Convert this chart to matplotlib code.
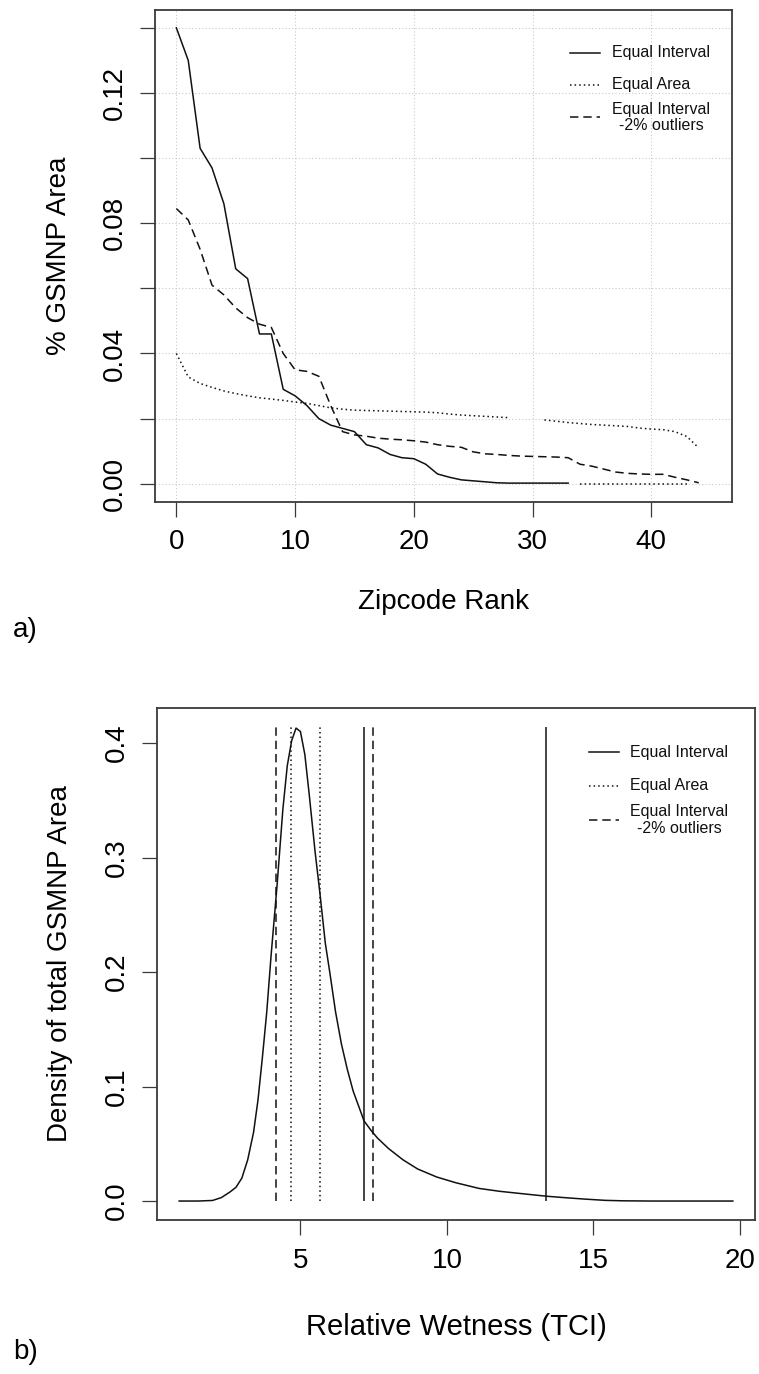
import numpy as np
import matplotlib.pyplot as plt

plt.rcParams['font.family'] = ['Liberation Sans', 'DejaVu Sans']

# panel a) - share of park area per zipcode, ranked
rank_eq_int = np.arange(34)
pct_eq_int = [0.140, 0.130, 0.103, 0.097, 0.086, 0.066, 0.063, 0.046, 0.046, 0.029,
              0.027, 0.024, 0.020, 0.018, 0.017, 0.016, 0.012, 0.011, 0.009, 0.008,
              0.0077, 0.006, 0.003, 0.002, 0.0012, 0.0009, 0.0006, 0.0003, 0.0002, 0.0002,
              0.0002, 0.0002, 0.0002, 0.0002]

rank_eq_area = np.arange(45)
pct_eq_area = [0.040, 0.0328, 0.0308, 0.0296, 0.0285, 0.0277, 0.0270, 0.0264, 0.0260, 0.0256,
               0.0251, 0.0247, 0.0240, 0.0233, 0.0229, 0.0226, 0.0225, 0.0224, 0.0223, 0.0222,
               0.0221, 0.0220, 0.0218, 0.0214, 0.0211, 0.0209, 0.0207, 0.0205, 0.0203, np.nan,
               np.nan, 0.0196, 0.0192, 0.0188, 0.0185, 0.0182, 0.0180, 0.0178, 0.0176, 0.0171,
               0.0168, 0.0166, 0.0160, 0.0145, 0.0110]

rank_outl = np.arange(45)
pct_outl = [0.0845, 0.081, 0.072, 0.061, 0.058, 0.054, 0.051, 0.049, 0.048, 0.040,
            0.035, 0.0345, 0.033, 0.024, 0.016, 0.015, 0.0146, 0.0140, 0.0137, 0.0135,
            0.0132, 0.0128, 0.0120, 0.0115, 0.0112, 0.0098, 0.0092, 0.0090, 0.0087, 0.0085,
            0.0084, 0.0083, 0.0082, 0.0080, 0.0060, 0.0054, 0.0045, 0.0036, 0.0032, 0.0030,
            0.0029, 0.0029, 0.0020, 0.0012, 0.0003]

# dotted stretch lying on zero at the far right
tail_rank = np.arange(34, 44)
tail_pct = [0.0, 0.0, 0.0, 0.0, 0.0, 0.0, 0.0, 0.0, 0.0, 0.0]

# panel b) - density of TCI with class breaks
tci = [0.86, 1.5, 2.0, 2.3, 2.6, 2.8, 3.0, 3.2, 3.4, 3.55,
       3.7, 3.85, 4.0, 4.2, 4.4, 4.55, 4.7, 4.85, 5.0, 5.15,
       5.3, 5.5, 5.66, 5.85, 6.0, 6.2, 6.4, 6.6, 6.8, 7.0,
       7.17, 7.4, 7.63, 8.0, 8.5, 9.0, 9.65, 10.3, 11.1, 11.8,
       12.5, 13.4, 14.0, 14.7, 15.4, 16.0, 17.0, 19.76]
density = [0.0, 0.0, 0.0005, 0.003, 0.008, 0.012, 0.02, 0.036, 0.06, 0.088,
           0.125, 0.165, 0.215, 0.275, 0.342, 0.38, 0.402, 0.413, 0.41, 0.39,
           0.355, 0.305, 0.27, 0.225, 0.2, 0.165, 0.137, 0.115, 0.096, 0.082,
           0.07, 0.062, 0.055, 0.046, 0.036, 0.028, 0.021, 0.016, 0.011, 0.0085,
           0.0066, 0.0042, 0.003, 0.0017, 0.0006, 0.0002, 0.0, 0.0]

breaks_eq_int = [7.16, 13.38]
breaks_eq_area = [4.68, 5.68]
breaks_outl = [4.17, 7.49]
break_top = 0.414

labels = ['Equal Interval', 'Equal Area', 'Equal Interval\n-2% outliers']

SOLID = '-'
DOTTED = (0, (1, 2))
DASHED = (0, (5.5, 3.2))
INK = '#111111'
LW = 1.1

W, H = 759, 1374
fig = plt.figure(figsize=(W / 100, H / 100), dpi=100)


def style_axes(ax):
    for sp in ax.spines.values():
        sp.set_color('#3a3a3a')
        sp.set_linewidth(1.3)
    ax.tick_params(direction='out', length=10.8, width=0.9, color='#3a3a3a',
                   labelsize=20, pad=9)
    for lab in ax.get_yticklabels():
        lab.set_rotation(90)
        lab.set_va('center')


def add_legend(ax, x0, x1, xt, rows):
    styles = [SOLID, DOTTED, DASHED]
    for style, y, lab in zip(styles, rows, labels):
        ax.plot([x0, x1], [y, y], transform=ax.transAxes, color=INK,
                lw=LW, linestyle=style, clip_on=False)
        ax.text(xt, y, lab, transform=ax.transAxes, fontsize=11.5,
                ha='left', va='center', multialignment='center',
                linespacing=1.15, color=INK)


# ---- panel a
ax1 = fig.add_axes([155 / W, 1 - 502 / H, 577 / W, 492.4 / H])
ax1.set_xlim(-1.8, 46.8)
ax1.set_ylim(-0.0056, 0.1456)
ax1.set_xticks([0, 10, 20, 30, 40])
yt = np.round(np.arange(0, 0.141, 0.02), 2)
ax1.set_yticks(yt)
ax1.set_yticklabels(['%.2f' % v if i % 2 == 0 else '' for i, v in enumerate(yt)])
ax1.grid(True, color='#c9c9c9', linestyle=(0, (1, 2)), linewidth=0.8)
ax1.set_axisbelow(True)

ax1.plot(rank_eq_int, pct_eq_int, color=INK, lw=LW, linestyle=SOLID)
ax1.plot(rank_eq_area, pct_eq_area, color=INK, lw=LW, linestyle=DOTTED)
ax1.plot(tail_rank, tail_pct, color=INK, lw=LW, linestyle=DOTTED)
ax1.plot(rank_outl, pct_outl, color=INK, lw=LW, linestyle=DASHED)

style_axes(ax1)
ax1.set_xlabel('Zipcode Rank', fontsize=20)
ax1.xaxis.set_label_coords(0.5, -100 / 492.4)
ax1.xaxis.label.set_va('center')
ax1.set_ylabel('% GSMNP Area', fontsize=20)
ax1.yaxis.set_label_coords((59 - 155) / 577, 0.5)
ax1.yaxis.label.set_va('center')
add_legend(ax1, 0.719, 0.771, 0.792, [0.9125, 0.8469, 0.7809])

fig.text(13 / W, 1 - 630 / H, 'a)', fontsize=20, ha='left', va='center')

# ---- panel b
ax2 = fig.add_axes([157 / W, 1 - 1220 / H, 598 / W, 512 / H])
ax2.set_xlim(0.104, 20.516)
ax2.set_ylim(-0.01656, 0.43056)
ax2.set_xticks([5, 10, 15, 20])
ax2.set_yticks([0.0, 0.1, 0.2, 0.3, 0.4])
ax2.set_yticklabels(['0.0', '0.1', '0.2', '0.3', '0.4'])

ax2.plot(tci, density, color=INK, lw=LW, linestyle=SOLID)
ax2.vlines(breaks_eq_int, 0, break_top, color=INK, lw=LW, linestyle=SOLID)
ax2.vlines(breaks_eq_area, 0, break_top, color=INK, lw=LW, linestyle=DOTTED)
ax2.vlines(breaks_outl, 0, break_top, color=INK, lw=LW, linestyle=DASHED)

style_axes(ax2)
ax2.set_xlabel('Relative Wetness (TCI)', fontsize=21)
ax2.xaxis.set_label_coords(0.5, -107 / 512)
ax2.xaxis.label.set_va('center')
ax2.set_ylabel('Density of total GSMNP Area', fontsize=20)
ax2.yaxis.set_label_coords((60 - 157) / 598, 0.5)
ax2.yaxis.label.set_va('center')
add_legend(ax2, 0.722, 0.772, 0.791, [0.914, 0.8477, 0.781])

fig.text(13 / W, 1 - 1352 / H, 'b)', fontsize=20, ha='left', va='center')

fig.savefig('out.png', dpi=100, facecolor='white')
